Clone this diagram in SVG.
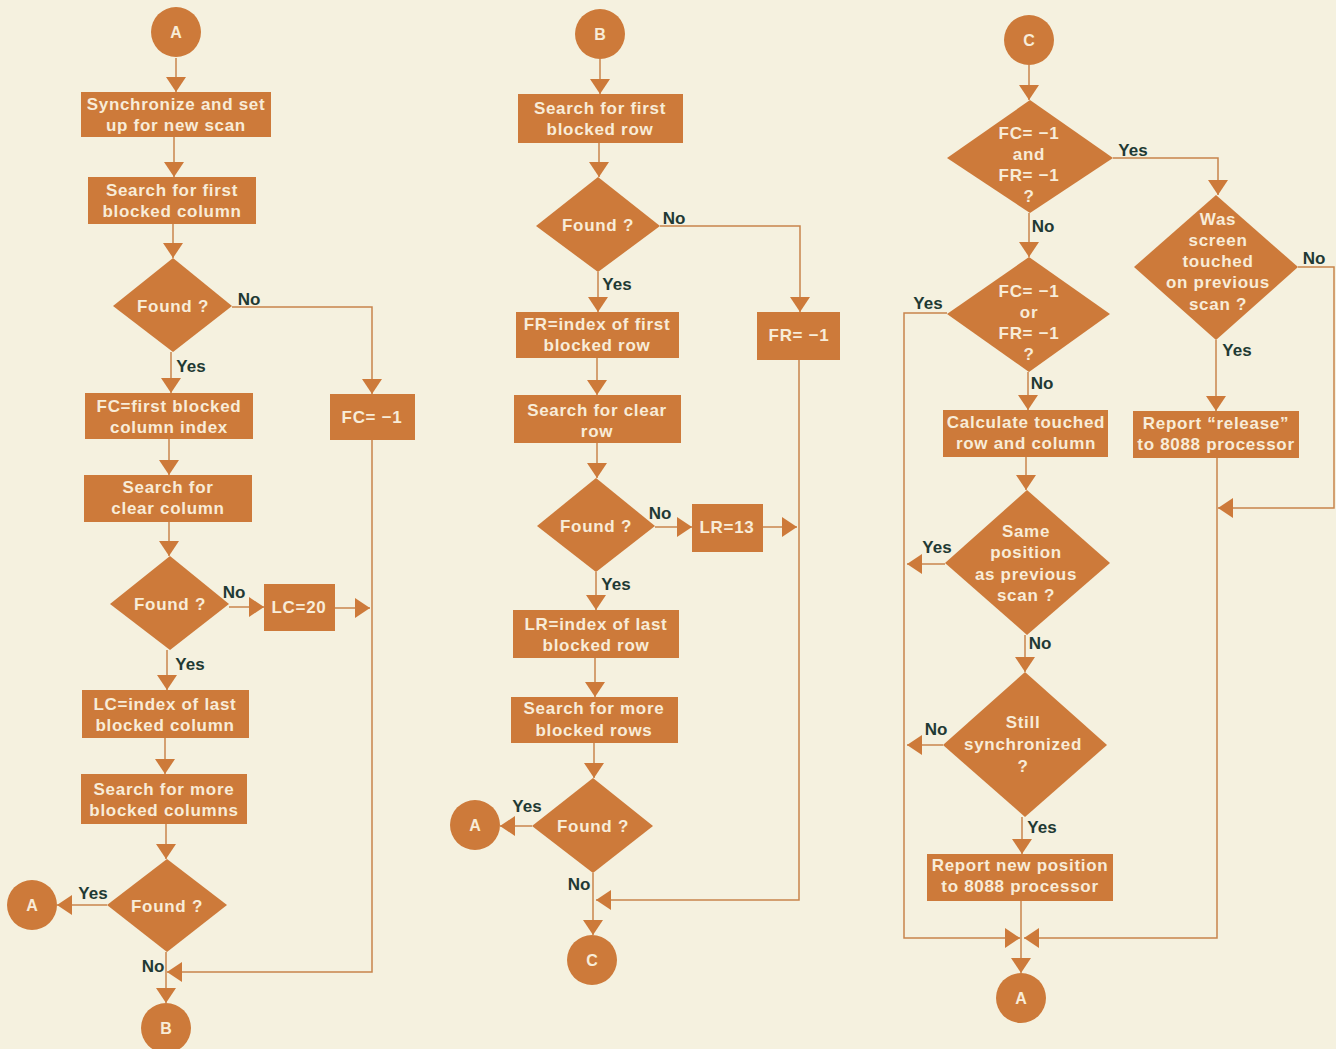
<svg xmlns="http://www.w3.org/2000/svg" width="1336" height="1049" viewBox="0 0 1336 1049">
<style>
.n{fill:#cd7a3a}
.t{font-family:"Liberation Sans",Arial,sans-serif;font-weight:bold;font-size:17px;letter-spacing:0.7px;fill:#f8ecd8;text-anchor:middle;dominant-baseline:central}
.k{font-family:"Liberation Sans",Arial,sans-serif;font-weight:bold;font-size:16px;fill:#f8ecd8;text-anchor:middle;dominant-baseline:central}
.l{font-family:"Liberation Sans",Arial,sans-serif;font-weight:bold;font-size:17px;fill:#1f3a34;text-anchor:middle;dominant-baseline:central}
.c{fill:none;stroke:#c8844c;stroke-width:1.5;marker-end:url(#ah)}
</style>
<defs>
<marker id="ah" markerUnits="userSpaceOnUse" markerWidth="15" markerHeight="20" refX="15" refY="10" orient="auto" viewBox="0 0 15 20">
<path d="M0,0 L15,10 L0,20 z" fill="#cd7a3a"/>
</marker>
</defs>
<rect width="1336" height="1049" fill="#f5f1df"/>

<g id="connectors">
<path class="c" d="M176,58 V92"/>
<path class="c" d="M174,137 V177"/>
<path class="c" d="M173,224 V258"/>
<path class="c" d="M171,352 V393"/>
<path class="c" d="M169,439 V475"/>
<path class="c" d="M169,522 V556"/>
<path class="c" d="M167,650 V690"/>
<path class="c" d="M165,738 V774"/>
<path class="c" d="M166,824 V859"/>
<path class="c" d="M166,952 V1003"/>
<path class="c" d="M232,307 H372 V394"/>
<path class="c" d="M372,440 V972 H167"/>
<path class="c" d="M229,607 H264"/>
<path class="c" d="M335,608 H370"/>
<path class="c" d="M107,905 H57"/>
<path class="c" d="M600,59 V94"/>
<path class="c" d="M599,143 V177"/>
<path class="c" d="M598,272 V312"/>
<path class="c" d="M660,226 H800 V312"/>
<path class="c" d="M597,358 V395"/>
<path class="c" d="M597,443 V478"/>
<path class="c" d="M596,572 V610"/>
<path class="c" d="M655,527 H692"/>
<path class="c" d="M763,527 H797"/>
<path class="c" d="M799,360 V900 H596"/>
<path class="c" d="M595,658 V697"/>
<path class="c" d="M594,743 V778"/>
<path class="c" d="M532,826 H500"/>
<path class="c" d="M593,873 V935"/>
<path class="c" d="M1029,65 V100"/>
<path class="c" d="M1113,158 H1218 V195"/>
<path class="c" d="M1029,213 V257"/>
<path class="c" d="M947,313 H904 V938 H1020"/>
<path class="c" d="M1028,372 V410"/>
<path class="c" d="M1026,457 V490"/>
<path class="c" d="M945,564 H907"/>
<path class="c" d="M1025,635 V672"/>
<path class="c" d="M943,745 H907"/>
<path class="c" d="M1022,817 V854"/>
<path class="c" d="M1021,901 V973"/>
<path class="c" d="M1216,340 V411"/>
<path class="c" d="M1217,458 V938 H1024"/>
<path class="c" d="M1298,267 H1334 V508 H1218"/>
</g>

<g id="conn-labels">
<text class="l" x="249" y="299">No</text>
<text class="l" x="191" y="366">Yes</text>
<text class="l" x="234" y="592">No</text>
<text class="l" x="190" y="664">Yes</text>
<text class="l" x="93" y="893">Yes</text>
<text class="l" x="153" y="966">No</text>
<text class="l" x="674" y="218">No</text>
<text class="l" x="617" y="284">Yes</text>
<text class="l" x="660" y="513">No</text>
<text class="l" x="616" y="584">Yes</text>
<text class="l" x="527" y="806">Yes</text>
<text class="l" x="579" y="884">No</text>
<text class="l" x="1133" y="150">Yes</text>
<text class="l" x="1043" y="226">No</text>
<text class="l" x="1314" y="258">No</text>
<text class="l" x="928" y="303">Yes</text>
<text class="l" x="1237" y="350">Yes</text>
<text class="l" x="1042" y="383">No</text>
<text class="l" x="937" y="547">Yes</text>
<text class="l" x="1040" y="643">No</text>
<text class="l" x="936" y="729">No</text>
<text class="l" x="1042" y="827">Yes</text>
</g>

<g id="c1-startA"><circle class="n" cx="176" cy="32" r="25"/><text class="k" x="176" y="32">A</text></g>
<g id="c1-sync"><rect class="n" x="81" y="92" width="190" height="45"/><text class="t" x="176" y="104">Synchronize and set</text><text class="t" x="176" y="125">up for new scan</text></g>
<g id="c1-searchfirst"><rect class="n" x="88" y="177" width="168" height="47"/><text class="t" x="172" y="190">Search for first</text><text class="t" x="172" y="211">blocked column</text></g>
<g id="c1-found1"><polygon class="n" points="173,258 232,306 173,352 113,306"/><text class="t" x="173" y="306">Found ?</text></g>
<g id="c1-fc"><rect class="n" x="85" y="393" width="168" height="46"/><text class="t" x="169" y="406">FC=first blocked</text><text class="t" x="169" y="427">column index</text></g>
<g id="c1-fcneg"><rect class="n" x="330" y="394" width="85" height="46"/><text class="t" x="372" y="417">FC= −1</text></g>
<g id="c1-searchclear"><rect class="n" x="84" y="475" width="168" height="47"/><text class="t" x="168" y="487">Search for</text><text class="t" x="168" y="508">clear column</text></g>
<g id="c1-found2"><polygon class="n" points="170,556 229,604 170,650 110,604"/><text class="t" x="170" y="604">Found ?</text></g>
<g id="c1-lc20"><rect class="n" x="264" y="584" width="71" height="47"/><text class="t" x="299" y="607">LC=20</text></g>
<g id="c1-lc"><rect class="n" x="82" y="690" width="167" height="48"/><text class="t" x="165" y="704">LC=index of last</text><text class="t" x="165" y="725">blocked column</text></g>
<g id="c1-searchmore"><rect class="n" x="81" y="774" width="166" height="50"/><text class="t" x="164" y="789">Search for more</text><text class="t" x="164" y="810">blocked columns</text></g>
<g id="c1-found3"><polygon class="n" points="167,859 227,905 167,952 107,905"/><text class="t" x="167" y="906">Found ?</text></g>
<g id="c1-endA"><circle class="n" cx="32" cy="905" r="25"/><text class="k" x="32" y="905">A</text></g>
<g id="c1-endB"><circle class="n" cx="166" cy="1028" r="25"/><text class="k" x="166" y="1028">B</text></g>

<g id="c2-startB"><circle class="n" cx="600" cy="34" r="25"/><text class="k" x="600" y="34">B</text></g>
<g id="c2-searchfirst"><rect class="n" x="518" y="94" width="165" height="49"/><text class="t" x="600" y="108">Search for first</text><text class="t" x="600" y="129">blocked row</text></g>
<g id="c2-found1"><polygon class="n" points="598,177 660,226 598,272 536,226"/><text class="t" x="598" y="225">Found ?</text></g>
<g id="c2-fr"><rect class="n" x="516" y="312" width="163" height="46"/><text class="t" x="597" y="324">FR=index of first</text><text class="t" x="597" y="345">blocked row</text></g>
<g id="c2-frneg"><rect class="n" x="757" y="312" width="83" height="48"/><text class="t" x="799" y="335">FR= −1</text></g>
<g id="c2-searchclear"><rect class="n" x="514" y="395" width="167" height="48"/><text class="t" x="597" y="410">Search for clear</text><text class="t" x="597" y="431">row</text></g>
<g id="c2-found2"><polygon class="n" points="596,478 655,526 596,572 537,526"/><text class="t" x="596" y="526">Found ?</text></g>
<g id="c2-lr13"><rect class="n" x="692" y="504" width="71" height="48"/><text class="t" x="727" y="527">LR=13</text></g>
<g id="c2-lr"><rect class="n" x="513" y="610" width="166" height="48"/><text class="t" x="596" y="624">LR=index of last</text><text class="t" x="596" y="645">blocked row</text></g>
<g id="c2-searchmore"><rect class="n" x="511" y="697" width="167" height="46"/><text class="t" x="594" y="708">Search for more</text><text class="t" x="594" y="730">blocked rows</text></g>
<g id="c2-found3"><polygon class="n" points="593,778 653,826 593,873 532,826"/><text class="t" x="593" y="826">Found ?</text></g>
<g id="c2-endA"><circle class="n" cx="475" cy="825" r="25"/><text class="k" x="475" y="825">A</text></g>
<g id="c2-endC"><circle class="n" cx="592" cy="960" r="25"/><text class="k" x="592" y="960">C</text></g>

<g id="c3-startC"><circle class="n" cx="1029" cy="40" r="25"/><text class="k" x="1029" y="40">C</text></g>
<g id="c3-and"><polygon class="n" points="1030,100 1113,158 1030,213 947,158"/><text class="t" x="1029" y="133">FC= −1</text><text class="t" x="1029" y="154">and</text><text class="t" x="1029" y="175">FR= −1</text><text class="t" x="1029" y="196">?</text></g>
<g id="c3-was"><polygon class="n" points="1216,195 1298,267 1216,340 1134,267"/><text class="t" x="1218" y="219">Was</text><text class="t" x="1218" y="240">screen</text><text class="t" x="1218" y="261">touched</text><text class="t" x="1218" y="282">on previous</text><text class="t" x="1218" y="304">scan ?</text></g>
<g id="c3-or"><polygon class="n" points="1029,257 1110,314 1029,372 947,314"/><text class="t" x="1029" y="291">FC= −1</text><text class="t" x="1029" y="312">or</text><text class="t" x="1029" y="333">FR= −1</text><text class="t" x="1029" y="354">?</text></g>
<g id="c3-calc"><rect class="n" x="943" y="410" width="165" height="47"/><text class="t" x="1026" y="422">Calculate touched</text><text class="t" x="1026" y="443">row and column</text></g>
<g id="c3-release"><rect class="n" x="1133" y="411" width="166" height="47"/><text class="t" x="1216" y="423">Report “release”</text><text class="t" x="1216" y="444">to 8088 processor</text></g>
<g id="c3-same"><polygon class="n" points="1027,490 1110,563 1027,635 945,563"/><text class="t" x="1026" y="531">Same</text><text class="t" x="1026" y="552">position</text><text class="t" x="1026" y="574">as previous</text><text class="t" x="1026" y="595">scan ?</text></g>
<g id="c3-sync"><polygon class="n" points="1025,672 1107,745 1025,817 943,745"/><text class="t" x="1023" y="722">Still</text><text class="t" x="1023" y="744">synchronized</text><text class="t" x="1023" y="766">?</text></g>
<g id="c3-report"><rect class="n" x="927" y="854" width="186" height="47"/><text class="t" x="1020" y="865">Report new position</text><text class="t" x="1020" y="886">to 8088 processor</text></g>
<g id="c3-endA"><circle class="n" cx="1021" cy="998" r="25"/><text class="k" x="1021" y="998">A</text></g>
</svg>
